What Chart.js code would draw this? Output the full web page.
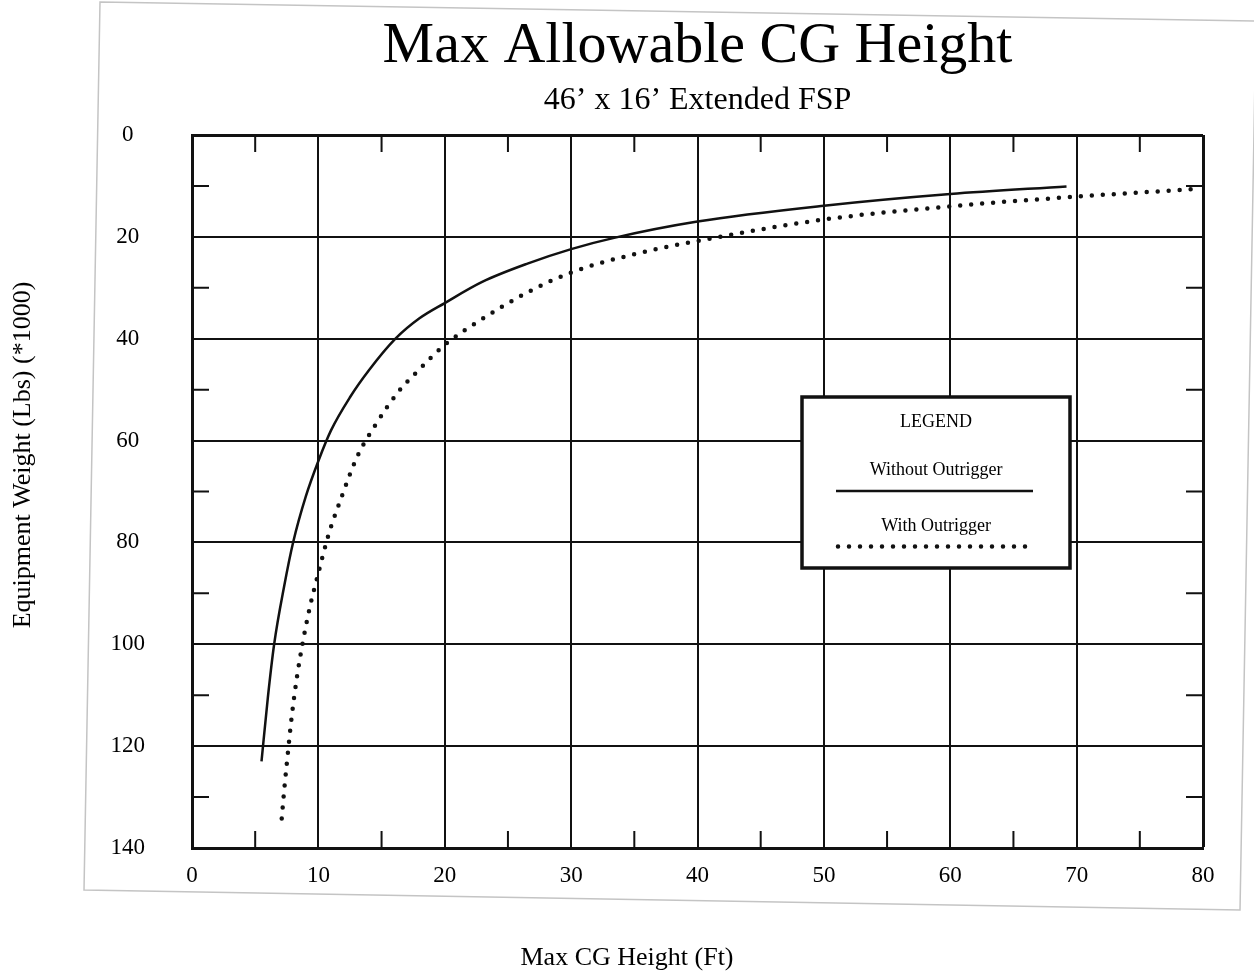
<!DOCTYPE html>
<html lang="en">
<head>
<meta charset="UTF-8">
<title>Max Allowable CG Height</title>
<script src="https://cdn.jsdelivr.net/npm/chart.js@4.4.1/dist/chart.umd.min.js"></script>
<style>
  html, body { margin: 0; padding: 0; background: #fff; }
  #chart-container { position: relative; width: 1254px; height: 976px; }
</style>
</head>
<body>
<div id="chart-container"><canvas id="cg-chart"></canvas></div>
<script>
// --- DATOS ---
const xTicks = [0, 10, 20, 30, 40, 50, 60, 70, 80];
const yTicks = [0, 20, 40, 60, 80, 100, 120, 140];
const xMinorTicks = [5, 15, 25, 35, 45, 55, 65, 75];
const yMinorTicks = [10, 30, 50, 70, 90, 110, 130];

const seriesLabels = ['Without Outrigger', 'With Outrigger'];

// Max CG Height (Ft) vs Equipment Weight (*1000 Lbs)
const withoutOutriggerX = [5.5, 6.0, 6.5, 7.3, 8.0, 9.0, 10.0, 11.0, 12.5, 14.0, 16.1, 18.0, 20, 23, 26.6, 30, 33.4, 40, 50, 60, 69.2];
const withoutOutriggerY = [123, 110.5, 100, 88.5, 80, 71, 64, 58, 51.5, 46.2, 40, 36, 33, 28.8, 25.2, 22.4, 20.2, 17, 13.9, 11.6, 10.1];

const withOutriggerX = [7.1, 7.3, 7.6, 7.9, 8.3, 8.7, 9.3, 10.0, 10.8, 11.7, 13.1, 14.5, 16.3, 18, 20, 22.6, 26.4, 30, 35, 40, 50, 60, 70, 79.5];
const withOutriggerY = [134.2, 128.5, 121, 114, 106.5, 100.5, 93, 86, 78.5, 72, 63, 57, 50.5, 46, 41.2, 36.7, 31.1, 27, 23.4, 20.8, 16.6, 14, 12.1, 10.6];

const chartTitle = 'Max Allowable CG Height';
const chartSubtitle = '46’ x 16’ Extended FSP';
const xAxisTitle = 'Max CG Height (Ft)';
const yAxisTitle = 'Equipment Weight (Lbs) (*1000)';
const legendTitle = 'LEGEND';

document.addEventListener('DOMContentLoaded', () => {
    const SERIF = "'Liberation Serif', 'Times New Roman', serif";
    const INK = '#111';
    Chart.defaults.font.family = SERIF;
    Chart.defaults.color = '#000';

    const toPoints = (xs, ys) => xs.map((x, i) => ({ x, y: ys[i] }));

    // --- MARCO DE LA HOJA ESCANEADA ---
    const pageFrame = {
        id: 'pageFrame',
        beforeDraw(chart) {
            const { ctx, width, height } = chart;
            ctx.save();
            ctx.fillStyle = '#fff';
            ctx.fillRect(0, 0, width, height);
            ctx.strokeStyle = '#c4c4c4';
            ctx.lineWidth = 1.5;
            ctx.beginPath();
            ctx.moveTo(100, 2);
            ctx.lineTo(1256, 21);
            ctx.lineTo(1240, 910);
            ctx.lineTo(84, 890);
            ctx.closePath();
            ctx.stroke();
            ctx.restore();
        }
    };

    // --- MARCAS MENORES DENTRO DEL MARCO ---
    const minorTicks = {
        id: 'minorTicks',
        beforeDatasetsDraw(chart) {
            const { ctx, chartArea: ca, scales: { x, y } } = chart;
            const len = 17;
            ctx.save();
            ctx.strokeStyle = INK;
            ctx.lineWidth = 2;
            ctx.beginPath();
            xMinorTicks.forEach(v => {
                const px = x.getPixelForValue(v);
                ctx.moveTo(px, ca.top); ctx.lineTo(px, ca.top + len);
                ctx.moveTo(px, ca.bottom); ctx.lineTo(px, ca.bottom - len);
            });
            yMinorTicks.forEach(v => {
                const py = y.getPixelForValue(v);
                ctx.moveTo(ca.left, py); ctx.lineTo(ca.left + len, py);
                ctx.moveTo(ca.right, py); ctx.lineTo(ca.right - len, py);
            });
            ctx.stroke();
            ctx.restore();
        }
    };

    // --- TITULOS DE EJES ---
    const axisTitles = {
        id: 'axisTitles',
        afterDraw(chart) {
            const { ctx } = chart;
            ctx.save();
            ctx.fillStyle = '#000';
            ctx.font = `26px ${SERIF}`;
            ctx.textAlign = 'center';
            ctx.textBaseline = 'middle';
            ctx.fillText(xAxisTitle, 627, 958);
            ctx.translate(23, 455);
            ctx.rotate(-Math.PI / 2);
            ctx.fillText(yAxisTitle, 0, 0);
            ctx.restore();
        }
    };

    // --- LEYENDA EN CAJA ---
    const boxLegend = {
        id: 'boxLegend',
        afterDatasetsDraw(chart) {
            const { ctx, chartArea: ca } = chart;
            const left = ca.left + 610, top = ca.top + 262, w = 268, h = 171;
            const cx = left + w / 2;
            const [solid, dotted] = chart.data.datasets;
            ctx.save();
            ctx.fillStyle = '#fff';
            ctx.fillRect(left, top, w, h);
            ctx.strokeStyle = INK;
            ctx.lineWidth = 3.5;
            ctx.strokeRect(left, top, w, h);

            ctx.fillStyle = '#000';
            ctx.textAlign = 'center';
            ctx.textBaseline = 'middle';
            ctx.font = `18px ${SERIF}`;
            ctx.fillText(legendTitle, cx, top + 25);
            ctx.fillText(solid.label, cx, top + 73);
            ctx.fillText(dotted.label, cx, top + 129);

            ctx.strokeStyle = solid.borderColor;
            ctx.lineWidth = solid.borderWidth;
            ctx.beginPath();
            ctx.moveTo(left + 34, top + 94);
            ctx.lineTo(left + 231, top + 94);
            ctx.stroke();

            ctx.strokeStyle = dotted.borderColor;
            ctx.lineWidth = dotted.borderWidth;
            ctx.lineCap = dotted.borderCapStyle;
            ctx.setLineDash(dotted.borderDash);
            ctx.beginPath();
            ctx.moveTo(left + 36, top + 149.5);
            ctx.lineTo(left + 230, top + 149.5);
            ctx.stroke();
            ctx.restore();
        }
    };

    const canvas = document.getElementById('cg-chart');

    new Chart(canvas, {
        type: 'line',
        data: {
            datasets: [
                {
                    label: seriesLabels[0],
                    data: toPoints(withoutOutriggerX, withoutOutriggerY),
                    borderColor: INK,
                    borderWidth: 2.5,
                    pointRadius: 0,
                    cubicInterpolationMode: 'monotone',
                    fill: false
                },
                {
                    label: seriesLabels[1],
                    data: toPoints(withOutriggerX, withOutriggerY),
                    borderColor: INK,
                    borderWidth: 4.5,
                    borderDash: [0, 11],
                    borderCapStyle: 'round',
                    pointRadius: 0,
                    cubicInterpolationMode: 'monotone',
                    fill: false
                }
            ]
        },
        options: {
            responsive: true,
            maintainAspectRatio: false,
            animation: false,
            layout: { padding: { top: 0, right: 51, bottom: 0, left: 0 } },
            plugins: {
                legend: { display: false },
                tooltip: { enabled: false },
                title: {
                    display: true,
                    text: chartTitle,
                    fullSize: false,
                    color: '#000',
                    font: { size: 58, weight: 'normal' },
                    padding: { top: 12, bottom: 0 }
                },
                subtitle: {
                    display: true,
                    text: chartSubtitle,
                    fullSize: false,
                    color: '#000',
                    font: { size: 32 },
                    padding: { top: 0, bottom: 15 }
                }
            },
            scales: {
                x: {
                    type: 'linear',
                    min: 0,
                    max: 80,
                    afterBuildTicks: s => { s.ticks = xTicks.map(v => ({ value: v })); },
                    afterFit: s => { s.height = 128; },
                    grid: {
                        color: INK,
                        lineWidth: c => (c.tick && c.tick.value === 80 ? 3 : 2),
                        drawTicks: false
                    },
                    border: { color: INK, width: 3 },
                    ticks: { font: { size: 23 }, padding: 14, maxRotation: 0, color: '#000' }
                },
                y: {
                    type: 'linear',
                    reverse: true,
                    min: 0,
                    max: 140,
                    afterBuildTicks: s => { s.ticks = yTicks.map(v => ({ value: v })); },
                    afterFit: s => { s.width = 192; },
                    grid: {
                        color: INK,
                        lineWidth: c => (c.tick && c.tick.value === 0 ? 3 : 2),
                        drawTicks: false
                    },
                    border: { color: INK, width: 3 },
                    ticks: { font: { size: 23 }, crossAlign: 'center', padding: 47, color: '#000' }
                }
            }
        },
        plugins: [pageFrame, minorTicks, axisTitles, boxLegend]
    });
});
</script>
</body>
</html>
